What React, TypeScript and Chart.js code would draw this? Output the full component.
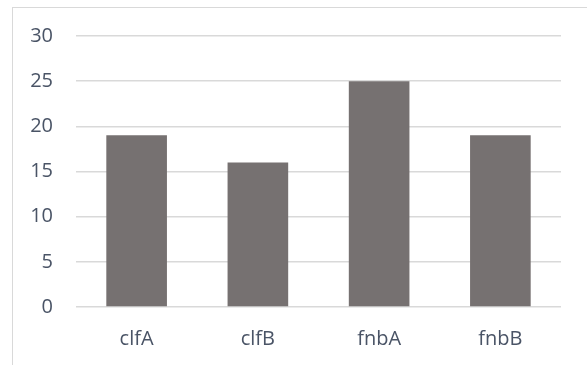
import React, { useEffect, useRef } from "react";
import { Chart, registerables } from "chart.js";

Chart.register(...registerables);

const categories = ["clfA", "clfB", "fnbA", "fnbB"];
const values = [19, 16, 25, 19];
const yTicks = [0, 5, 10, 15, 20, 25, 30];

export default function App() {
  const ref = useRef<HTMLCanvasElement>(null);
  useEffect(() => {
    document.body.style.margin = "0";
    const font = { family: "'Open Sans', sans-serif", size: 20 };
    const chart = new Chart(ref.current!, {
      type: "bar",
      data: {
        labels: categories,
        datasets: [
          {
            data: values,
            backgroundColor: "#767171",
            borderWidth: 0,
            categoryPercentage: 0.5,
            barPercentage: 1,
          },
        ],
      },
      options: {
        animation: false,
        responsive: false,
        maintainAspectRatio: false,
        layout: { padding: { left: 0, top: 36, right: 26, bottom: 0 } },
        plugins: { legend: { display: false }, tooltip: { enabled: false } },
        scales: {
          x: {
            grid: { display: false, drawTicks: false },
            border: { display: false },
            ticks: { color: "#4a5466", font, padding: 20 },
            afterFit: (s: any) => {
              s.height = 58;
            },
          },
          y: {
            min: 0,
            max: 30,
            afterBuildTicks: (s: any) => {
              s.ticks = yTicks.map((v) => ({ value: v }));
            },
            grid: { color: "#d9d9d9", lineWidth: 1.5, drawTicks: false },
            border: { display: false },
            ticks: { color: "#4a5466", font, padding: 23 },
            afterFit: (s: any) => {
              s.width = 76;
            },
          },
        },
      },
    });
    return () => chart.destroy();
  }, []);
  return (
    <div style={{ position: "absolute", left: 0, top: 0, width: 587, height: 365, overflow: "hidden", background: "#fff" }}>
      <div
        style={{
          position: "absolute",
          left: 12,
          top: 7,
          width: 700,
          height: 500,
          border: "1.5px solid #d9d9d9",
          boxSizing: "border-box",
        }}
      />
      <canvas ref={ref} width={587} height={365} style={{ position: "absolute", left: 0, top: 0 }} />
    </div>
  );
}
